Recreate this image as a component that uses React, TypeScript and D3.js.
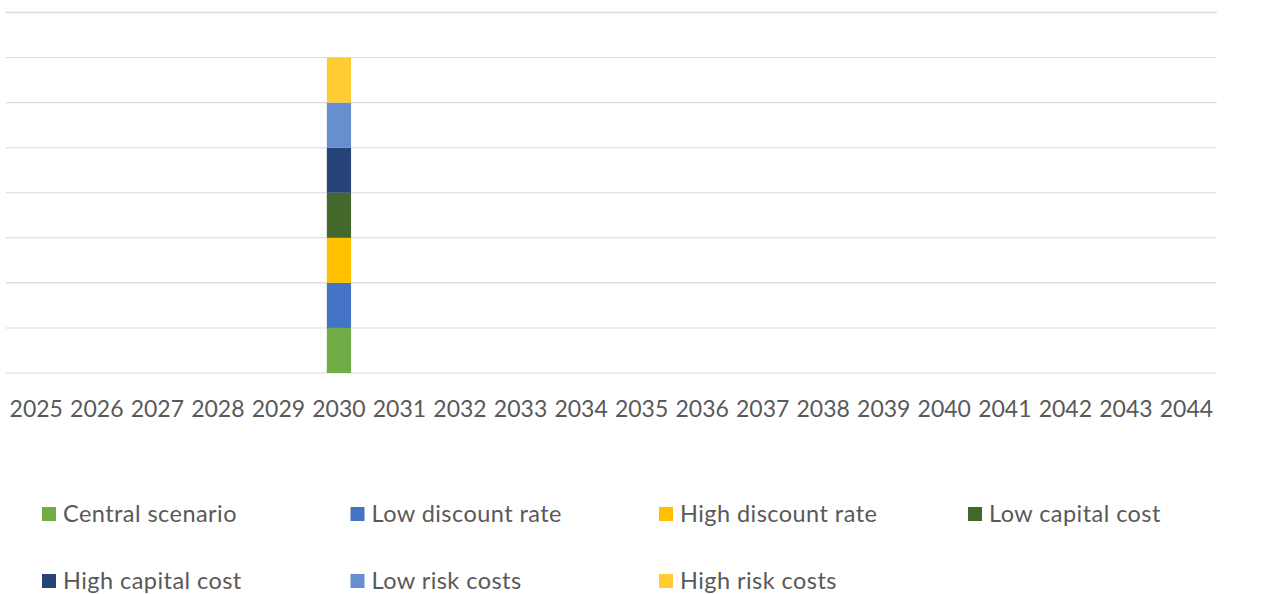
import React from "react";
import * as d3 from "d3";

const years = ["2025","2026","2027","2028","2029","2030","2031","2032","2033","2034","2035","2036","2037","2038","2039","2040","2041","2042","2043","2044"];
const seriesNames = ["Central scenario","Low discount rate","High discount rate","Low capital cost","High capital cost","Low risk costs","High risk costs"];
const seriesColors = ["#70AD47","#4472C4","#FFC000","#43682B","#264478","#698ED0","#FFCD33"];
// value per series per year (only 2030 has data)
const centralScenario = [0,0,0,0,0,1,0,0,0,0,0,0,0,0,0,0,0,0,0,0];
const lowDiscountRate = [0,0,0,0,0,1,0,0,0,0,0,0,0,0,0,0,0,0,0,0];
const highDiscountRate = [0,0,0,0,0,1,0,0,0,0,0,0,0,0,0,0,0,0,0,0];
const lowCapitalCost = [0,0,0,0,0,1,0,0,0,0,0,0,0,0,0,0,0,0,0,0];
const highCapitalCost = [0,0,0,0,0,1,0,0,0,0,0,0,0,0,0,0,0,0,0,0];
const lowRiskCosts = [0,0,0,0,0,1,0,0,0,0,0,0,0,0,0,0,0,0,0,0];
const highRiskCosts = [0,0,0,0,0,1,0,0,0,0,0,0,0,0,0,0,0,0,0,0];
const yTicks = [0,1,2,3,4,5,6,7,8];

const allSeries = [centralScenario, lowDiscountRate, highDiscountRate, lowCapitalCost, highCapitalCost, lowRiskCosts, highRiskCosts];

export default function App() {
  const W = 1263, H = 594;
  const x = d3.scaleBand<string>().domain(years).range([6, 1216.7]).paddingInner(0.6).paddingOuter(0.3);
  const y = d3.scaleLinear().domain([0, 8]).range([373, 12.5]);
  const rows = years.map((yr, i) => {
    const o: any = { year: yr };
    seriesNames.forEach((s, k) => (o[s] = allSeries[k][i]));
    return o;
  });
  const stack = d3.stack<any>().keys(seriesNames)(rows);
  const font = "Lato, 'Open Sans', sans-serif";
  const legendCols = [42, 350.5, 659, 968];
  const legendRows = [507, 574];
  return (
    <svg width={W} height={H} style={{ position: "absolute", left: 0, top: 0, background: "#fff" }}>
      {yTicks.map((t, i) => (
        <line key={t} x1={6} x2={1216.7} y1={y(t)} y2={y(t)} stroke="#d9d9d9" strokeWidth={i === yTicks.length - 1 ? 1.6 : 1.1} />
      ))}
      {stack.map((layer, k) =>
        layer.map((d, i) =>
          d[1] - d[0] > 0 ? (
            <rect key={k + "-" + i} x={x(years[i])} width={x.bandwidth()} y={y(d[1])} height={y(d[0]) - y(d[1])} fill={seriesColors[k]} />
          ) : null
        )
      )}
      {years.map((yr) => (
        <text key={yr} x={(x(yr) as number) + x.bandwidth() / 2} y={416.5} textAnchor="middle" fontFamily={font} fontSize={23} fill="#595959">
          {yr}
        </text>
      ))}
      {seriesNames.map((s, k) => {
        const lx = legendCols[k % 4];
        const ly = legendRows[Math.floor(k / 4)];
        return (
          <g key={s}>
            <rect x={lx} y={ly} width={14} height={14} fill={seriesColors[k]} />
            <text x={lx + 21} y={ly + 15} fontFamily={font} fontSize={23.5} letterSpacing={0.45} fill="#595959">{s}</text>
          </g>
        );
      })}
    </svg>
  );
}
